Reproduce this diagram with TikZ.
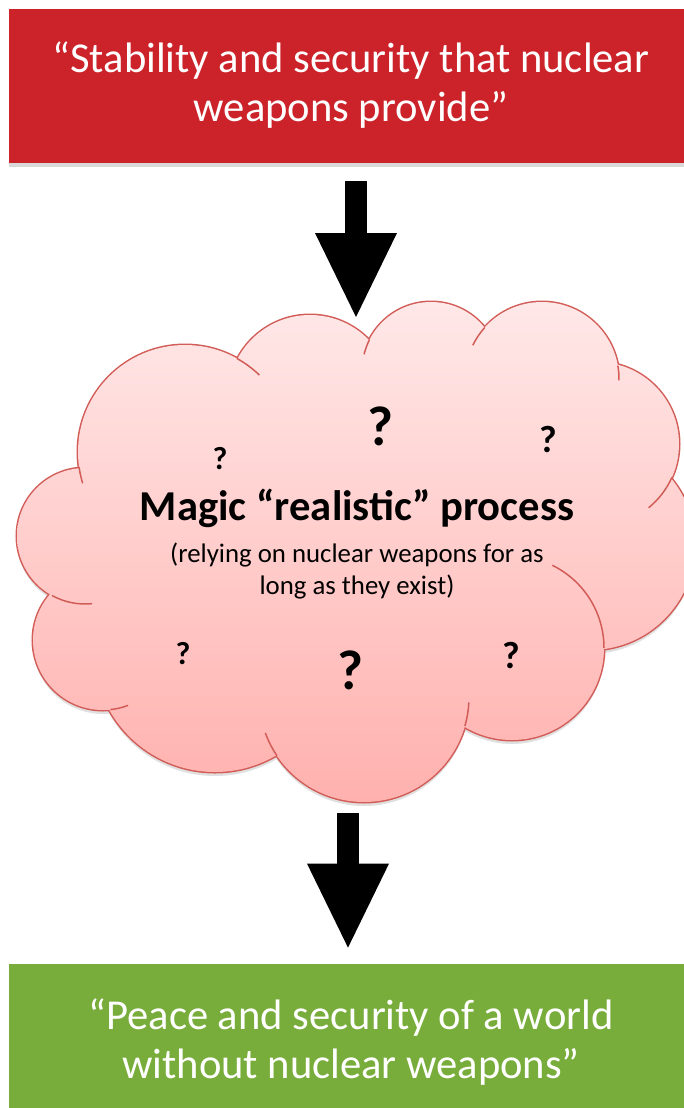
\documentclass[tikz,border=0pt]{standalone}
\usepackage{fontspec}
\setmainfont{Carlito}
\usetikzlibrary{positioning,arrows.meta,shadows}
\definecolor{stabred}{HTML}{CC2229}
\definecolor{peacegreen}{HTML}{78AD3B}
\definecolor{cloudline}{HTML}{D25D58}
\definecolor{cloudtop}{HTML}{FFE8E8}
\definecolor{cloudbottom}{HTML}{FFB1AE}

\begin{document}
\begin{tikzpicture}[x=0.5pt,y=0.5pt,
  quotebox/.style={minimum width=342pt,minimum height=77pt,inner sep=0pt,align=center,
    text=white,font=\fontsize{21.3}{24.5}\selectfont,
    drop shadow={shadow xshift=0pt,shadow yshift=-2pt,opacity=0.3}},
  blockarrow/.style={black,line width=11pt,-{Triangle[length=42pt,width=41pt,line width=0pt]}},
  qmark/.style={inner sep=0pt,font=\bfseries\fontsize{#1}{#1}\selectfont}]
  \useasboundingbox (0,0) rectangle (684,-1108);
  \def\lobes{185/452/107, 310/397/82, 431/371/69, 542/379/77, 597/444/82,
    590/545/105, 512/648/92, 364/697/105, 215/651/121, 103/640/70, 85/536/68}
  \pgfmathsetmacro{\cloudw}{0.75}
  % the two statements
  \node[quotebox,fill=stabred] (stab) at (351,-85.5)
    {“Stability and security that nuclear\\weapons provide”};
  \node[quotebox,fill=peacegreen,minimum height=78pt] (peace) at (351,-1042)
    {“Peace and security of a world\\without nuclear weapons”};
  % cloud: shadow, outline, filling
  \fill[black,opacity=0.12,yshift=-2pt]
    (85,-536) -- (103,-640) -- (215,-651) -- (364,-697) -- (512,-648) -- (590,-545)
    -- (597,-444) -- (542,-379) -- (431,-371) -- (310,-397) -- (185,-452) -- cycle
    foreach \cx/\cy/\r in \lobes {(\cx,-\cy) circle (\r)};
  \foreach \cx/\cy/\r in \lobes
    \draw[cloudline,line width=2*\cloudw pt] (\cx,-\cy) circle (\r);
  \shade[top color=cloudtop,bottom color=cloudbottom]
    (85,-536) -- (103,-640) -- (215,-651) -- (364,-697) -- (512,-648) -- (590,-545)
    -- (597,-444) -- (542,-379) -- (431,-371) -- (310,-397) -- (185,-452) -- cycle
    foreach \cx/\cy/\r in \lobes {(\cx,-\cy) circle (\r)};
  % inner ends of the lobes
  \foreach \cx/\cy/\r/\a/\b in {185/452/107/61/46, 185/452/107/188/197,
      431/371/69/153/166, 542/379/77/138/154, 542/379/77/10/-1, 597/444/82/-24/-51,
      512/648/92/0/64, 364/697/105/-16/-3, 364/697/105/214/200, 103/640/70/-84/-69,
      85/536/68/241/276}
    \draw[cloudline,line width=\cloudw pt] (\cx,-\cy) ++(\a:\r) arc[start angle=\a,end angle=\b,radius=\r];
  % texts in the cloud
  \node[inner sep=0pt,font=\bfseries\fontsize{21.3}{24}\selectfont] (magic) at (357,-508)
    {Magic “realistic” process};
  \node[inner sep=0pt,align=center,font=\fontsize{13.4}{16}\selectfont] (relying) at (357,-571)
    {(relying on nuclear weapons for as\\long as they exist)};
  \foreach \qx/\qy/\qs [count=\i] in {220/459/16, 380/426/28, 548/440/19,
      183/654/16, 350/670/28, 511/656/19}
    \node[qmark=\qs] (q\i) at (\qx,-\qy) {?};
  % arrows
  \coordinate (intop) at (356,-317);
  \coordinate (inbot) at (348,-813);
  \draw[blockarrow,shorten <=9pt] (stab.south -| intop) -- (intop);
  \draw[blockarrow,shorten >=8pt] (inbot) -- (inbot |- peace.north);
\end{tikzpicture}
\end{document}
